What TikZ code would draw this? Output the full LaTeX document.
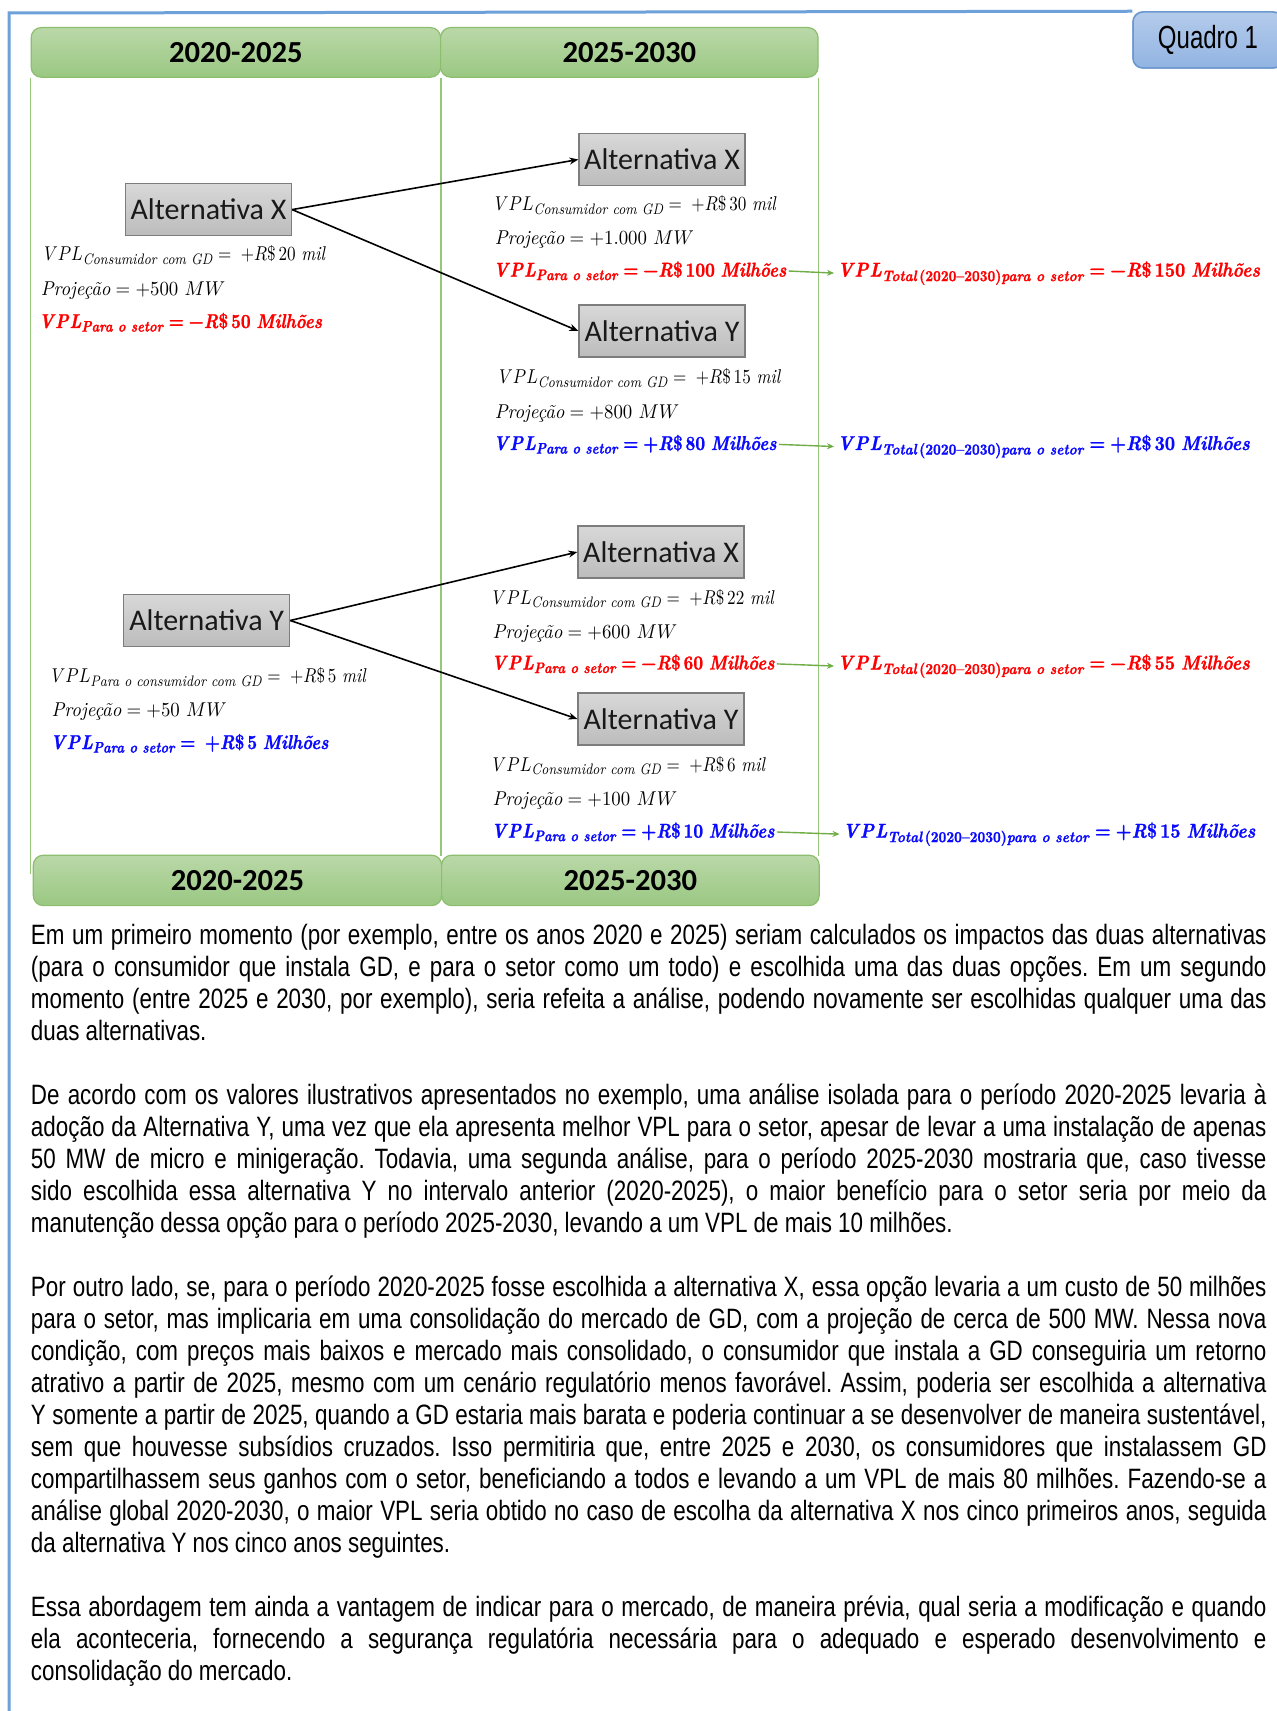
\documentclass[tikz,border=0pt]{standalone}
\usepackage{amsmath}
\usepackage{graphicx}
\usepackage{fontspec}
\DeclareMathSizes{10}{10}{7.6}{5.5}
\newfontfamily\narrowfont[FakeStretch=0.80]{Liberation Sans}
\newfontfamily\quadrofont[FakeStretch=0.75]{Liberation Sans}
\newfontfamily\calfont{Carlito}
\newfontface\bitface[FakeBold=1.3]{lmroman10-bolditalic.otf}
\newfontface\bupface[FakeBold=1.3]{lmroman10-bold.otf}
\usetikzlibrary{arrows.meta}
\definecolor{hdrtop}{RGB}{186,216,168}
\definecolor{hdrbot}{RGB}{154,200,130}
\definecolor{hdrline}{RGB}{140,190,110}
\definecolor{colline}{RGB}{150,198,120}
\definecolor{frameblue}{RGB}{110,160,218}
\definecolor{tabtop}{RGB}{180,203,235}
\definecolor{tabbot}{RGB}{146,180,226}
\definecolor{tabline}{RGB}{108,152,208}
\definecolor{boxtop}{RGB}{216,216,216}
\definecolor{boxbot}{RGB}{188,188,188}
\definecolor{boxline}{RGB}{125,125,125}
\definecolor{garrow}{RGB}{112,173,71}
\definecolor{vred}{RGB}{255,0,0}
\definecolor{vblue}{RGB}{10,10,255}
\newcommand\ti[1]{\text{\itshape #1}}
\newcommand\tb[1]{\text{\bitface #1}}
\newcommand\tu[1]{\text{\bupface #1}}
\newcommand\bvpl{\tb{V\kern0.9pt P\kern0.6pt L}}
\newcommand\hsq[2]{\scalebox{#1}[1]{#2}}
\newcommand\cons[1]{\hsq{0.855}{$VPL_{\ti{Consumidor com GD}} =\;+R\$\,#1\ \ti{mil}$}}
\newcommand\proj[1]{\hsq{0.94}{$\ti{Projeção} = +#1\ MW$}}
\newcommand\setor[2]{\hsq{0.85}{$\bvpl_{\tb{Para o setor}}\mathrel{\tu{=}}\tu{#1}\tb{R}\tu{\$\,#2}\ \tb{Milhões}$}}
\newcommand\total[2]{\hsq{0.89}{$\bvpl_{\tb{Total}\,\tu{(2020–2030)}\tb{para o setor}}\mathrel{\tu{=}}\tu{#1}\tb{R}\tu{\$\,#2}\ \tb{Milhões}$}}
\begin{document}
\begin{tikzpicture}[x=0.5pt,y=-0.5pt,
  hdr/.style={draw=hdrline, line width=0.6pt, top color=hdrtop, bottom color=hdrbot, rounded corners=5pt,
    anchor=north west, minimum height=24.8pt, inner sep=0, font=\calfont\bfseries\fontsize{15.3}{18}\selectfont},
  altbox/.style={draw=boxline, line width=0.6pt, top color=boxtop, bottom color=boxbot,
    minimum width=83pt, minimum height=26pt, inner sep=0, font=\calfont\fontsize{15}{18}\selectfont, text=black!90},
  eq/.style={anchor=base west, inner sep=0, font=\fontsize{10}{12}\selectfont},
  conn/.style={line width=0.8pt, -{Stealth[length=4.5pt,width=3.5pt]}},
  garr/.style={garrow, line width=0.7pt, -{Stealth[length=3.5pt,width=3pt]}, shorten <=1pt, shorten >=1.5pt},
  colln/.style={colline, line width=0.75pt},
  tabbox/.style={draw=tabline, line width=0.75pt, top color=tabtop, bottom color=tabbot, rounded corners=5pt,
    minimum width=75pt, minimum height=28pt, inner sep=0, font=\quadrofont\fontsize{16}{18}\selectfont}]
\useasboundingbox (0,0) rectangle (1276,1711);
\fill[white] (0,0) rectangle (1276,1711);

% tab and frame
\node (quadro) [tabbox] at (1208,40) {Quadro 1};
\draw[frameblue, line width=1.5pt] (9,1711) -- (9,13) -- (quadro.north west);
\node (quadrotop) [tabbox] at (quadro) {Quadro 1};

% headers
\node (h1) [hdr, minimum width=204.7pt] at (30.6,27) {2020-2025};
\node (h2) [hdr, minimum width=188.7pt] at (440,27) {2025-2030};
\draw[colln] (h1.south west) -- ++(0,796);
\draw[colln] (h1.south east) -- ++(0,778.2);
\draw[colln] (h2.south east) -- ++(0,778.2);
\node (b1) [hdr, minimum width=204.2pt, minimum height=25.2pt] at (32.7,854.6) {2020-2025};
\node (b2) [hdr, minimum width=188.8pt, minimum height=25.2pt] at (441,854.6) {2025-2030};

% boxes
\node (lx) [altbox] at (208.5,209.6) {Alternativa X};
\node (ly) [altbox] at (206.7,620.5) {Alternativa Y};
\node (mxa) [altbox] at (662,159.5) {Alternativa X};
\node (mya) [altbox] at (662,331) {Alternativa Y};
\node (mxb) [altbox] at (661,552) {Alternativa X};
\node (myb) [altbox] at (661,719) {Alternativa Y};

\draw[conn] (lx.east) -- (mxa.west);
\draw[conn] (lx.east) -- (mya.west);
\draw[conn] (ly.east) -- (mxb.west);
\draw[conn] (ly.east) -- (myb.west);

% left top
\node (lx1) [eq] at (43.7,261) {\cons{20}};
\node (lx2) [eq] at (40.4,296) {\proj{500}};
\node (lx3) [eq, text=vred] at (38.5,328) {\setor{−}{50}};
% mid 1
\node (m1a) [eq] at (494.4,211) {\cons{30}};
\node (m1b) [eq] at (494.4,245) {\proj{1.000}};
\node (m1c) [eq, text=vred] at (493,276.6) {\setor{−}{100}};
\node (t1) [eq, text=vred] at (837,276.6) {\total{−}{150}};
% mid 2
\node (m2a) [eq] at (498.8,383.6) {\cons{15}};
\node (m2b) [eq] at (494.4,418.5) {\proj{800}};
\node (m2c) [eq, text=vblue] at (493,450) {\setor{+}{80}};
\node (t2) [eq, text=vblue] at (837,450) {\total{+}{30}};
% mid 3
\node (m3a) [eq] at (492.3,604) {\cons{22}};
\node (m3b) [eq] at (492.3,638) {\proj{600}};
\node (m3c) [eq, text=vred] at (491,669.5) {\setor{−}{60}};
\node (t3) [eq, text=vred] at (837,669.5) {\total{−}{55}};
% mid 4
\node (m4a) [eq] at (492.3,771) {\cons{6}};
\node (m4b) [eq] at (492.3,805) {\proj{100}};
\node (m4c) [eq, text=vblue] at (491,837.6) {\setor{+}{10}};
\node (t4) [eq, text=vblue] at (842.5,837.6) {\total{+}{15}};
% left bottom
\node (ly1) [eq] at (51.3,682.6) {\hsq{0.855}{$VPL_{\ti{Para o consumidor com GD}} =\;+R\$\,5\ \ti{mil}$}};
\node (ly2) [eq] at (51.3,716.5) {\proj{50}};
\node (ly3) [eq, text=vblue] at (50,749) {\hsq{0.85}{$\bvpl_{\tb{Para o setor}}\mathrel{\tu{=}}\;\tu{+}\tb{R}\tu{\$\,5}\ \tb{Milhões}$}};

\draw[garr] (m1c.east) -- (t1.west);
\draw[garr] (m2c.east) -- (t2.west);
\draw[garr] (m3c.east) -- (t3.west);
\draw[garr] (m4c.east) -- (t4.west);

% body text
\node (body) [anchor=base west, inner sep=0, text width=617.8pt, align=justify,
  font=\narrowfont\fontsize{14}{16}\selectfont] at (30.6,944) {\hyphenpenalty=10000\tolerance=9999\frenchspacing
\spaceskip=0.22em plus 0.6em minus 0.06em%
Em um primeiro momento (por exemplo, entre os anos 2020 e 2025) seriam calculados os impactos das duas alternativas\linebreak
(para o consumidor que instala GD, e para o setor como um todo) e escolhida uma das duas opções. Em um segundo\linebreak
momento (entre 2025 e 2030, por exemplo), seria refeita a análise, podendo novamente ser escolhidas qualquer uma das\linebreak
duas alternativas.\par\vspace{16pt}
De acordo com os valores ilustrativos apresentados no exemplo, uma análise isolada para o período 2020-2025 levaria à\linebreak
adoção da Alternativa Y, uma vez que ela apresenta melhor VPL para o setor, apesar de levar a uma instalação de apenas\linebreak
50 MW de micro e minigeração. Todavia, uma segunda análise, para o período 2025-2030 mostraria que, caso tivesse\linebreak
sido escolhida essa alternativa Y no intervalo anterior (2020-2025), o maior benefício para o setor seria por meio da\linebreak
manutenção dessa opção para o período 2025-2030, levando a um VPL de mais 10 milhões.\par\vspace{16pt}
Por outro lado, se, para o período 2020-2025 fosse escolhida a alternativa X, essa opção levaria a um custo de 50 milhões\linebreak
para o setor, mas implicaria em uma consolidação do mercado de GD, com a projeção de cerca de 500 MW. Nessa nova\linebreak
condição, com preços mais baixos e mercado mais consolidado, o consumidor que instala a GD conseguiria um retorno\linebreak
atrativo a partir de 2025, mesmo com um cenário regulatório menos favorável. Assim, poderia ser escolhida a alternativa\linebreak
Y somente a partir de 2025, quando a GD estaria mais barata e poderia continuar a se desenvolver de maneira sustentável,\linebreak
sem que houvesse subsídios cruzados. Isso permitiria que, entre 2025 e 2030, os consumidores que instalassem GD\linebreak
compartilhassem seus ganhos com o setor, beneficiando a todos e levando a um VPL de mais 80 milhões. Fazendo-se a\linebreak
análise global 2020-2030, o maior VPL seria obtido no caso de escolha da alternativa X nos cinco primeiros anos, seguida\linebreak
da alternativa Y nos cinco anos seguintes.\par\vspace{16pt}
Essa abordagem tem ainda a vantagem de indicar para o mercado, de maneira prévia, qual seria a modificação e quando\linebreak
ela aconteceria, fornecendo a segurança regulatória necessária para o adequado e esperado desenvolvimento e\linebreak
consolidação do mercado.};
\end{tikzpicture}
\end{document}
